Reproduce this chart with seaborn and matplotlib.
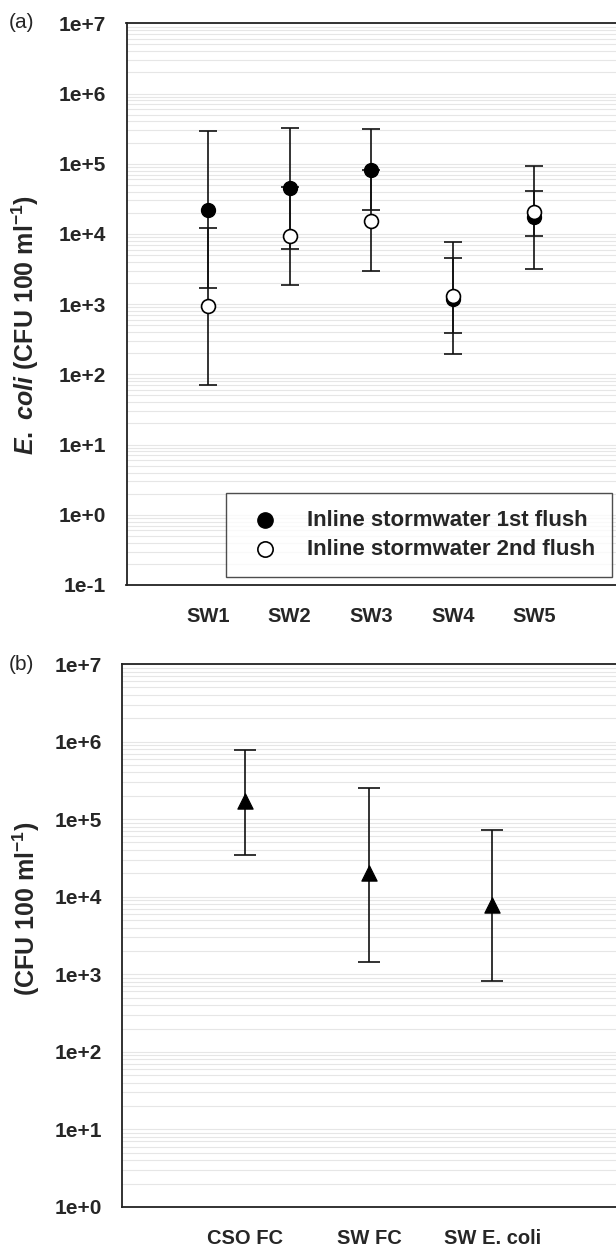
import numpy as np
import pandas as pd
import matplotlib
matplotlib.use("Agg")
import matplotlib.pyplot as plt
import seaborn as sns
from matplotlib.ticker import FixedLocator, FixedFormatter, LogLocator, NullFormatter

# ---------------- data ----------------
sites = ["SW1", "SW2", "SW3", "SW4", "SW5"]
first_flush = [2.2e4, 4.5e4, 8.2e4, 1.2e3, 1.75e4]
first_lo = [1.7e3, 6.2e3, 2.2e4, 195, 3.2e3]
first_hi = [2.9e5, 3.2e5, 3.1e5, 7.8e3, 9.4e4]
second_flush = [940, 9.3e3, 1.55e4, 1.32e3, 2.03e4]
second_lo = [70, 1.9e3, 3.0e3, 384, 9.5e3]
second_hi = [1.2e4, 4.6e4, 8.1e4, 4.5e3, 4.1e4]

groups_b = ["CSO FC", "SW FC", "SW E. coli"]
mean_b = [1.7e5, 2.0e4, 7.9e3]
lo_b = [3.5e4, 1.45e3, 825]
hi_b = [7.8e5, 2.5e5, 7.2e4]

yticks_a = [1e-1, 1e0, 1e1, 1e2, 1e3, 1e4, 1e5, 1e6, 1e7]
ylabels_a = ["1e-1", "1e+0", "1e+1", "1e+2", "1e+3", "1e+4", "1e+5", "1e+6", "1e+7"]
yticks_b = [1e0, 1e1, 1e2, 1e3, 1e4, 1e5, 1e6, 1e7]
ylabels_b = ["1e+0", "1e+1", "1e+2", "1e+3", "1e+4", "1e+5", "1e+6", "1e+7"]

# ---------------- style ----------------
sns.set_style("white")
plt.rcParams["font.family"] = ["Liberation Sans", "DejaVu Sans"]
plt.rcParams["mathtext.fontset"] = "custom"
plt.rcParams["mathtext.rm"] = "Liberation Sans:bold"
plt.rcParams["mathtext.it"] = "Liberation Sans:italic:bold"
plt.rcParams["mathtext.bf"] = "Liberation Sans:bold"

W, H = 616, 1247
fig = plt.figure(figsize=(W / 100, H / 100), dpi=100)

def px_axes(left, top, right, bottom):
    return fig.add_axes([left / W, 1 - bottom / H, (right - left) / W, (bottom - top) / H])

ax_a = px_axes(126.5, 23.3, 616, 585)
ax_b = px_axes(121.8, 664, 616, 1207)

def style_axes(ax, yt, yl, ylim):
    ax.set_yscale("log")
    ax.set_ylim(*ylim)
    ax.yaxis.set_major_locator(FixedLocator(yt))
    ax.yaxis.set_major_formatter(FixedFormatter(yl))
    ax.yaxis.set_minor_locator(LogLocator(base=10, subs=np.arange(2, 10)))
    ax.yaxis.set_minor_formatter(NullFormatter())
    ax.grid(True, which="both", axis="y", color="#e6e6e6", linewidth=0.8)
    ax.grid(False, axis="x")
    ax.set_axisbelow(True)
    for s in ["left", "top", "bottom"]:
        ax.spines[s].set_visible(True)
        ax.spines[s].set_color("#222222")
        ax.spines[s].set_linewidth(1.3)
    ax.spines["right"].set_visible(False)
    ax.tick_params(axis="y", which="major", direction="out", length=6.5, width=1.0,
                   color="#222222", pad=8, labelsize=15)
    ax.tick_params(axis="y", which="minor", length=0)
    ax.tick_params(axis="x", which="major", direction="out", length=6, width=1.0,
                   color="#222222", pad=10, labelsize=14.5)
    for lab in ax.get_xticklabels() + ax.get_yticklabels():
        lab.set_fontweight("bold")
    ax.set_xlabel("")
    ax.set_ylabel("")

# ---------------- panel (a) ----------------
xa = np.arange(len(sites))
df_a = pd.DataFrame({
    "site": sites * 2,
    "value": first_flush + second_flush,
    "series": ["Inline stormwater 1st flush"] * 5 + ["Inline stormwater 2nd flush"] * 5,
})

for vals, lo, hi in [(first_flush, first_lo, first_hi), (second_flush, second_lo, second_hi)]:
    v = np.array(vals)
    ax_a.errorbar(xa, v, yerr=[v - np.array(lo), np.array(hi) - v], fmt="none",
                  ecolor="#111111", elinewidth=1.2, capsize=6.5, capthick=1.2, zorder=2)

sns.scatterplot(data=df_a[df_a.series == "Inline stormwater 1st flush"], x="site", y="value",
                ax=ax_a, color="black", edgecolor="black", s=100, marker="o",
                linewidth=1.0, zorder=3, label="Inline stormwater 1st flush")
sns.scatterplot(data=df_a[df_a.series == "Inline stormwater 2nd flush"], x="site", y="value",
                ax=ax_a, color="white", edgecolor="black", s=100, marker="o",
                linewidth=1.2, zorder=4, label="Inline stormwater 2nd flush")

ax_a.set_xlim(-1, 5)
style_axes(ax_a, yticks_a, ylabels_a, (1e-1, 1e7))
ax_a.set_xticks(xa)
ax_a.set_xticklabels(sites, fontweight="bold", fontsize=14.5)

leg = ax_a.legend(loc="lower right", bbox_to_anchor=(612 / W, 1 - 576.5 / H),
                  bbox_transform=fig.transFigure, borderaxespad=0, frameon=True,
                  fancybox=False, edgecolor="#222222",
                  prop={"weight": "bold", "size": 16}, handletextpad=0.9,
                  borderpad=0.75, labelspacing=0.35, markerscale=1.1)
leg.get_frame().set_linewidth(1.0)

# ---------------- panel (b) ----------------
xb = np.arange(len(groups_b))
df_b = pd.DataFrame({"group": groups_b, "value": mean_b})
mb = np.array(mean_b)
ax_b.errorbar(xb, mb, yerr=[mb - np.array(lo_b), np.array(hi_b) - mb], fmt="none",
              ecolor="#111111", elinewidth=1.2, capsize=8.2, capthick=1.2, zorder=2)
sns.scatterplot(data=df_b, x="group", y="value", ax=ax_b, color="black",
                edgecolor="black", marker="^", s=120, zorder=3, legend=False)
ax_b.set_xlim(-1, 3)
style_axes(ax_b, yticks_b, ylabels_b, (1e0, 1e7))
ax_b.set_xticks(xb)
ax_b.set_xticklabels(groups_b, fontweight="bold", fontsize=14.5)

# ---------------- labels ----------------
fig.text(25.5 / W, 1 - 325 / H, r"$\mathit{E.\ coli}$ (CFU 100 ml$^{-1}$)",
         rotation=90, ha="center", va="center", fontsize=18, fontweight="bold")
fig.text(26 / W, 1 - 909 / H, r"(CFU 100 ml$^{-1}$)",
         rotation=90, ha="center", va="center", fontsize=18, fontweight="bold")
fig.text(9 / W, 1 - 23 / H, "(a)", ha="left", va="center", fontsize=15)
fig.text(9 / W, 1 - 664 / H, "(b)", ha="left", va="center", fontsize=15)

fig.savefig("out.png", dpi=100, facecolor="white")
